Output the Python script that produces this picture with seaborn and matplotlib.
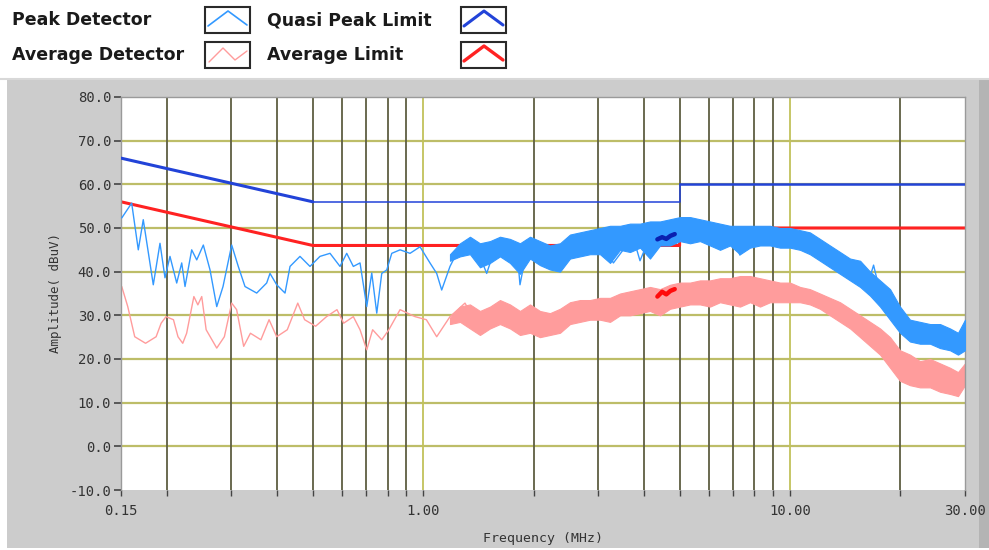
import numpy as np
import pandas as pd
import matplotlib
matplotlib.use("Agg")
import matplotlib.pyplot as plt
import seaborn as sns
from matplotlib.lines import Line2D
from matplotlib.patches import Rectangle
from matplotlib.ticker import FixedLocator, NullFormatter

sns.set_theme(style="white")
plt.rcParams['font.family'] = ['DejaVu Sans']

# ---------------- data ----------------
peak_freq = [0.1507, 0.1604, 0.1672, 0.1725, 0.1837, 0.1916, 0.1977, 0.2040, 0.2128, 0.2196,
             0.2242, 0.2338, 0.2413, 0.2515, 0.2623, 0.2736, 0.2846, 0.3005, 0.3132, 0.3267,
             0.3516, 0.3743, 0.3822, 0.3986, 0.4200, 0.4334, 0.4614, 0.4913, 0.5231, 0.5571,
             0.5932, 0.6187, 0.6449, 0.6726, 0.7016, 0.7240, 0.7471, 0.7709, 0.7955, 0.8209,
             0.8648, 0.9207, 0.9802, 1.0435, 1.0884, 1.1231, 1.1832, 1.2596, 1.3410, 1.4277,
             1.4897, 1.5527, 1.689, 1.799, 1.836, 1.895, 1.997, 2.126, 2.259, 2.466, 2.75,
             3.034, 3.30, 3.732, 3.90, 4.15, 4.620, 5.109, 5.683, 6.323, 6.992, 7.30, 7.60,
             8.655, 9.999, 11.33, 13.10, 14.58, 15.5, 16.22, 16.9, 17.93, 19.58, 21.23, 24.54,
             27.30, 29.0, 30.0]
peak_db = [52.3, 55.7, 45.0, 51.9, 37.0, 46.5, 38.6, 43.5, 37.4, 42.0,
           36.6, 45.0, 42.7, 46.1, 40.4, 32.0, 36.6, 46.1, 41.2, 36.6,
           35.1, 37.4, 39.6, 37.0, 35.1, 41.2, 43.5, 41.2, 43.5, 44.2,
           41.2, 44.2, 41.2, 42.0, 32.0, 39.7, 30.5, 39.6, 40.4, 44.2,
           45.0, 44.2, 45.7, 42.0, 39.6, 35.8, 41.2, 45.7, 46.5, 43.5,
           39.6, 44.2, 45.0, 45.7, 37.0, 43.0, 46.5, 45.7, 40.4, 45.7, 44.0,
           47.3, 42.0, 48.0, 42.5, 48.0, 49.2, 50.0, 49.8, 48.8, 48.0, 43.8, 48.5,
           48.0, 47.7, 46.6, 42.3, 39.6, 39.0, 36.6, 41.5, 32.4, 27.8, 25.5, 25.1,
           24.4, 22.9, 27.0]

peak_band_freq = [1.183, 1.260, 1.341, 1.428, 1.521, 1.619, 1.724, 1.836, 1.955, 2.081,
                  2.216, 2.360, 2.513, 2.676, 2.850, 3.034, 3.231, 3.441, 3.663, 3.901,
                  4.152, 4.422, 4.709, 5.013, 5.339, 5.683, 6.053, 6.444, 6.863, 7.307,
                  7.779, 8.283, 8.821, 9.393, 9.999, 10.65, 11.33, 12.07, 12.85, 13.69,
                  14.58, 15.53, 16.53, 17.60, 18.74, 19.95, 21.24, 22.62, 24.09, 25.65,
                  27.30, 28.71, 30.0]
peak_band_lo = [42.5, 43.5, 44.0, 41.0, 42.0, 43.5, 42.0, 39.5, 43.0, 41.5,
                40.5, 40.0, 43.0, 43.5, 44.0, 44.0, 42.0, 45.0, 44.5, 45.5,
                43.0, 46.0, 46.0, 47.0, 46.5, 47.0, 46.0, 45.0, 46.0, 44.0,
                45.5, 46.0, 46.0, 45.5, 45.5, 45.0, 44.0, 42.5, 41.0, 39.5,
                38.0, 36.5, 34.5, 32.0, 29.0, 26.0, 24.0, 23.5, 23.5, 22.5,
                22.0, 21.0, 22.0]
peak_band_hi = [44.0, 46.5, 48.0, 46.5, 47.0, 48.0, 47.5, 46.5, 48.0, 47.0,
                46.0, 46.5, 48.5, 49.0, 49.5, 50.0, 50.5, 50.5, 51.0, 51.0,
                51.5, 51.5, 52.0, 52.5, 52.5, 52.0, 51.5, 51.0, 50.5, 50.5,
                50.5, 50.5, 50.5, 50.0, 50.0, 49.5, 49.0, 47.5, 46.0, 44.5,
                43.0, 42.5, 40.0, 38.0, 36.0, 32.0, 29.0, 28.5, 28.0, 28.0,
                27.0, 26.0, 29.0]

avg_freq = [0.1507, 0.1565, 0.1635, 0.1750, 0.1870, 0.1930, 0.1990, 0.2085, 0.2145, 0.2210,
            0.2265, 0.2370, 0.2430, 0.2490, 0.2560, 0.2736, 0.2870, 0.3005, 0.3100, 0.3240,
            0.3380, 0.3610, 0.3800, 0.3986, 0.4260, 0.4550, 0.4750, 0.5090, 0.5450, 0.5820,
            0.6070, 0.6450, 0.6726, 0.7016, 0.7280, 0.7710, 0.8060, 0.8648, 0.9500, 1.0200,
            1.0884, 1.1832, 1.3000, 1.4300, 1.6190, 1.7990, 1.9920, 2.316, 2.727, 3.375,
            4.152, 5.109, 6.323, 7.779, 9.570, 11.13, 12.30, 14.58, 16.22, 17.93, 19.58,
            21.92, 25.64, 29.07, 30.0]
avg_db = [36.6, 32.0, 25.1, 23.6, 25.1, 28.2, 29.7, 29.0, 25.1, 23.6,
          25.9, 34.3, 32.4, 34.3, 26.7, 22.5, 25.1, 32.8, 31.3, 22.9,
          25.9, 24.4, 29.0, 25.1, 26.7, 32.8, 29.0, 27.5, 29.7, 31.3,
          28.2, 29.7, 26.7, 22.1, 26.7, 24.4, 26.7, 31.3, 29.7, 29.0,
          25.1, 29.7, 32.8, 26.7, 31.3, 28.2, 31.3, 28.2, 31.3, 32.0,
          33.9, 35.1, 35.5, 35.8, 35.1, 34.3, 32.0, 27.8, 24.8, 22.1, 18.0,
          16.5, 16.0, 14.5, 16.5]

avg_band_freq = peak_band_freq
avg_band_lo = [28.0, 28.5, 27.0, 25.5, 27.0, 28.0, 27.0, 25.5, 26.0, 25.0,
               25.5, 26.0, 28.0, 28.5, 29.0, 29.0, 28.5, 30.0, 30.0, 30.5,
               31.0, 30.0, 31.5, 32.0, 32.5, 32.5, 32.0, 33.0, 32.5, 32.0,
               33.0, 32.0, 33.0, 33.0, 33.0, 33.0, 32.5, 31.5, 30.0, 28.5,
               27.0, 25.0, 23.0, 21.0, 18.0, 15.0, 14.0, 13.5, 13.5, 12.5,
               12.0, 11.5, 14.0]
avg_band_hi = [29.5, 32.0, 32.5, 31.0, 32.0, 33.5, 32.5, 31.0, 32.5, 31.0,
               30.5, 31.5, 33.0, 33.5, 33.5, 34.0, 34.0, 35.0, 35.5, 36.0,
               36.5, 36.0, 37.0, 37.5, 37.5, 38.0, 38.0, 38.5, 38.5, 39.0,
               39.0, 38.5, 38.0, 37.5, 37.5, 36.5, 36.0, 35.0, 34.0, 33.0,
               31.5, 30.0, 28.5, 27.0, 25.0, 22.0, 21.0, 19.5, 20.0, 19.0,
               18.0, 17.0, 19.0]

qp_limit_freq = [0.15, 0.5, 5.0, 5.0, 30.0]
qp_limit_db = [66.0, 56.0, 56.0, 60.0, 60.0]
avg_limit_freq = [0.15, 0.5, 5.0, 5.0, 30.0]
avg_limit_db = [56.0, 46.0, 46.0, 50.0, 50.0]

qp_meas_freq = [4.35, 4.48, 4.60, 4.72, 4.85]
qp_meas_db = [47.4, 47.9, 47.5, 48.2, 48.6]
avg_meas_freq = [4.35, 4.48, 4.60, 4.72, 4.85]
avg_meas_db = [34.3, 35.4, 34.8, 35.6, 36.0]

y_ticks = [80, 70, 60, 50, 40, 30, 20, 10, 0, -10]
y_tick_labels = ["80.0", "70.0", "60.0", "50.0", "40.0", "30.0", "20.0", "10.0", "0.0", "-10.0"]
x_ticks = [0.15, 1.0, 10.0, 30.0]
x_tick_labels = ["0.15", "1.00", "10.00", "30.00"]
x_minor = [0.2, 0.3, 0.4, 0.5, 0.6, 0.7, 0.8, 0.9, 2, 3, 4, 5, 6, 7, 8, 9, 20]

legend_labels = ["Peak Detector", "Quasi Peak Limit", "Average Detector", "Average Limit"]

# ---------------- colours ----------------
C_PEAK = "#3399ff"
C_AVG = "#ff9c9c"
C_QP = "#2243d8"
C_AVGL = "#ff2222"
C_QPM = "#0a1fb0"
C_AVGM = "#ff0a0a"

W, H = 989, 550
fig = plt.figure(figsize=(W / 100, H / 100), dpi=100)
fig.patch.set_facecolor("white")

def px(x, y):
    return x / W, 1 - y / H

# grey panel
x0, y0 = px(7, 548)
fig.patches.append(Rectangle((x0, y0), (979 - 7) / W, (548 - 79) / H,
                             transform=fig.transFigure, facecolor="#cccccc",
                             edgecolor="none", zorder=-10))
x0, y0 = px(979, 548)
fig.patches.append(Rectangle((x0, y0), 10 / W, (548 - 79) / H,
                             transform=fig.transFigure, facecolor="#b4b4b4",
                             edgecolor="none", zorder=-9))
x0, y0 = px(0, 79)
fig.lines.append(Line2D([0, 1], [y0, y0], transform=fig.transFigure,
                        color="#d8d8d8", lw=1.5))

# axes
ax = fig.add_axes([121 / W, 1 - 490 / H, 844 / W, 393 / H])
ax.set_facecolor("white")
ax.set_xscale("log")
ax.set_xlim(0.15, 30)
ax.set_ylim(-10, 80)

# grid
for yv in y_ticks[1:-1]:
    ax.axhline(yv, color="#bdbd68", lw=1.6, zorder=1)
for xv in x_minor:
    ax.axvline(xv, color="#5e5e42", lw=1.3, zorder=1)
for xv in [1.0, 10.0]:
    ax.axvline(xv, color="#c2c25a", lw=1.3, zorder=1)

def line(freq, db, color, lw, z):
    d = pd.DataFrame({"f": freq, "db": db})
    sns.lineplot(data=d, x="f", y="db", ax=ax, color=color, lw=lw, sort=False,
                 estimator=None, zorder=z)

# bands (dense noisy region)
ax.fill_between(avg_band_freq, avg_band_lo, avg_band_hi, color=C_AVG, lw=0.8,
                edgecolor=C_AVG, zorder=2)
line(avg_freq, avg_db, C_AVG, 1.0, 2)

line(avg_limit_freq, avg_limit_db, C_AVGL, 2.2, 2.5)

ax.fill_between(peak_band_freq, peak_band_lo, peak_band_hi, color=C_PEAK, lw=0.8,
                edgecolor=C_PEAK, zorder=3)
line(peak_freq, peak_db, C_PEAK, 1.0, 3)

# QP limit: thick slope, thin 56 segment, medium 60 segment
line(qp_limit_freq[:2], qp_limit_db[:2], C_QP, 2.2, 4)
line(qp_limit_freq[1:4], qp_limit_db[1:4], C_QP, 1.1, 4)
line(qp_limit_freq[3:], qp_limit_db[3:], C_QP, 1.8, 4)

line(qp_meas_freq, qp_meas_db, C_QPM, 3.2, 5)
line(avg_meas_freq, avg_meas_db, C_AVGM, 3.2, 5)

# ticks
mono = "DejaVu Sans Mono"
ax.yaxis.set_major_locator(FixedLocator(y_ticks))
ax.set_yticklabels(y_tick_labels, family=mono, fontsize=10, color="#333333")
ax.xaxis.set_major_locator(FixedLocator(x_ticks))
ax.xaxis.set_minor_locator(FixedLocator(x_minor))
ax.xaxis.set_minor_formatter(NullFormatter())
ax.set_xticklabels(x_tick_labels, family=mono, fontsize=10, color="#333333")
ax.tick_params(axis="y", which="major", direction="out", length=5, width=1.2,
               color="#444444", left=True, pad=2)
ax.tick_params(axis="x", which="both", direction="out", length=4, width=1.0,
               color="#444444", bottom=True, pad=6)
ax.set_xlabel("Frequency (MHz)", family=mono, fontsize=9.5, color="#333333", labelpad=10)
ax.set_ylabel("Amplitude( dBuV)", family=mono, fontsize=9, color="#333333", labelpad=5)
for s in ["left", "top", "right"]:
    ax.spines[s].set_color("#9a9a9a")
    ax.spines[s].set_linewidth(1.0)
ax.spines["bottom"].set_visible(False)
ax.grid(False)

# custom legend
rows = [20, 55]
cols_text = [12, 267]
cols_box = [205, 461]
colors = [[C_PEAK, C_QP], [C_AVG, C_AVGL]]
widths = [[1.2, 2.2], [1.0, 2.4]]
labels2 = [[legend_labels[0], legend_labels[1]], [legend_labels[2], legend_labels[3]]]
for r, yc in enumerate(rows):
    for c in range(2):
        tx, ty = px(cols_text[c], yc)
        fig.text(tx, ty, labels2[r][c], ha="left", va="center", fontsize=12.5,
                 fontweight="bold", color="#1a1a1a")
        bx, by = px(cols_box[c], yc + 13)
        fig.patches.append(Rectangle((bx, by), 45 / W, 26 / H, transform=fig.transFigure,
                                     facecolor="white", edgecolor="#2a2a2a", lw=1.5))
        xb = cols_box[c]
        if r == 1 and c == 0:
            pts = [(xb + 4, yc + 7), (xb + 18, yc - 7), (xb + 30, yc + 5), (xb + 42, yc - 4)]
        else:
            pts = [(xb + 3, yc + 6), (xb + 23, yc - 9), (xb + 42, yc + 5)]
        xs = [p[0] / W for p in pts]
        ys = [1 - p[1] / H for p in pts]
        fig.lines.append(Line2D(xs, ys, transform=fig.transFigure,
                                color=colors[r][c], lw=widths[r][c]))

fig.savefig("out.png", dpi=100)
